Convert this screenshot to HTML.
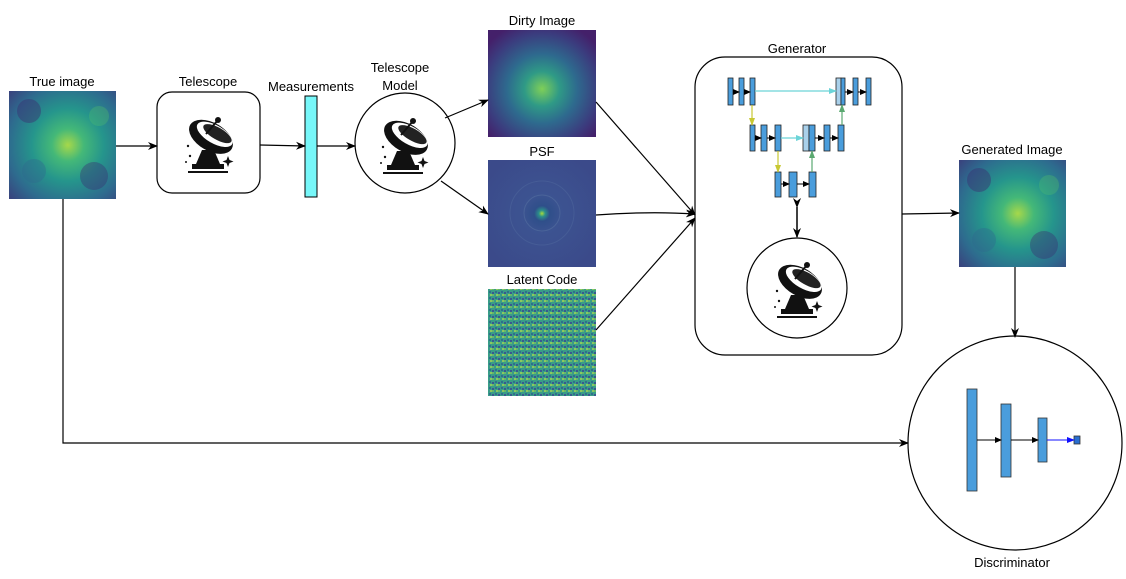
<!DOCTYPE html>
<html><head><meta charset="utf-8"><style>
html,body{margin:0;padding:0;background:#fff;}
svg text{font-family:"Liberation Sans",Arial,sans-serif;font-size:13px;fill:#000;text-anchor:middle;}
</style></head><body>
<svg width="1126" height="574" viewBox="0 0 1126 574" xmlns="http://www.w3.org/2000/svg">
<defs>
<marker id="ar" markerWidth="10" markerHeight="10" refX="9" refY="5" orient="auto" markerUnits="userSpaceOnUse"><path d="M0,1 L10,5 L0,9 L3,5 z" fill="#000"/></marker>
<marker id="arc" markerWidth="8" markerHeight="8" refX="7" refY="4" orient="auto" markerUnits="userSpaceOnUse"><path d="M0,1 L8,4 L0,7 z" fill="#6cd4d8"/></marker>
<marker id="ary" markerWidth="8" markerHeight="8" refX="7" refY="4" orient="auto" markerUnits="userSpaceOnUse"><path d="M0,1 L8,4 L0,7 z" fill="#c8c832"/></marker>
<marker id="arg" markerWidth="8" markerHeight="8" refX="7" refY="4" orient="auto" markerUnits="userSpaceOnUse"><path d="M0,1 L8,4 L0,7 z" fill="#5aa870"/></marker>
<marker id="arb" markerWidth="8" markerHeight="8" refX="7" refY="4" orient="auto" markerUnits="userSpaceOnUse"><path d="M0,1 L8,4 L0,7 z" fill="#1010ff"/></marker>
<marker id="ark" markerWidth="7" markerHeight="7" refX="6" refY="3.5" orient="auto" markerUnits="userSpaceOnUse"><path d="M0,0.5 L7,3.5 L0,6.5 z" fill="#000"/></marker>
<radialGradient id="astro" cx="0.55" cy="0.5" r="0.75">
<stop offset="0" stop-color="#a6d84a"/><stop offset="0.2" stop-color="#44b878"/><stop offset="0.45" stop-color="#25958c"/><stop offset="0.75" stop-color="#2e6a8e"/><stop offset="1" stop-color="#3a3f7c"/></radialGradient>
<radialGradient id="dirty" cx="0.5" cy="0.55" r="0.65">
<stop offset="0" stop-color="#7fcf58"/><stop offset="0.25" stop-color="#2f9a86"/><stop offset="0.5" stop-color="#2e6a8e"/><stop offset="0.8" stop-color="#3b3c7e"/><stop offset="1" stop-color="#44206a"/></radialGradient>
<radialGradient id="psf" cx="0.5" cy="0.5" r="0.6">
<stop offset="0" stop-color="#a8db3a"/><stop offset="0.05" stop-color="#2c8f8b"/><stop offset="0.12" stop-color="#2f4f8a"/><stop offset="0.3" stop-color="#3c5391"/><stop offset="1" stop-color="#3b4a8a"/></radialGradient>
<pattern id="noise" width="6" height="6" patternUnits="userSpaceOnUse">
<rect width="6" height="6" fill="#3a9c88"/><rect width="2" height="2" fill="#66b86a"/><rect x="3" y="3" width="2" height="2" fill="#2f6f8c"/><rect x="4" y="0" width="2" height="2" fill="#8cc860"/><rect x="0" y="4" width="2" height="2" fill="#3a5890"/></pattern>
<g id="blobs">
<circle cx="20" cy="20" r="12" fill="#3a2f72" opacity="0.45"/>
<circle cx="85" cy="85" r="14" fill="#3a2f72" opacity="0.4"/>
<circle cx="90" cy="25" r="10" fill="#4fbd6e" opacity="0.35"/>
<circle cx="25" cy="80" r="12" fill="#2f6a8e" opacity="0.4"/>
</g>
<g id="tel">
<ellipse cx="0" cy="-6" rx="24" ry="14" transform="rotate(30)" fill="#111"/>
<ellipse cx="2" cy="-10" rx="20" ry="9" transform="rotate(30)" fill="#fff"/>
<ellipse cx="4" cy="-12" rx="16" ry="6" transform="rotate(30)" fill="#222"/>
<circle cx="10" cy="-22" r="3" fill="#111"/>
<line x1="10" y1="-22" x2="-2" y2="-8" stroke="#111" stroke-width="2"/>
<path d="M-6,8 L6,8 L12,22 L-12,22 z" fill="#111"/>
<rect x="-16" y="22" width="32" height="5" fill="#111"/>
<rect x="-20" y="29" width="40" height="2" fill="#111"/>
<path d="M20,14 l1.5,4 l4,1.5 l-4,1.5 l-1.5,4 l-1.5,-4 l-4,-1.5 l4,-1.5 z" fill="#111"/>
<circle cx="-20" cy="4" r="1.2" fill="#111"/><circle cx="-18" cy="14" r="1.2" fill="#111"/><circle cx="-22" cy="20" r="1" fill="#111"/>
</g>
</defs>

<text x="62" y="86">True image</text>
<text x="208" y="86">Telescope</text>
<text x="311" y="91">Measurements</text>
<text x="400" y="72">Telescope</text>
<text x="400" y="90">Model</text>
<text x="542" y="25">Dirty Image</text>
<text x="542" y="156">PSF</text>
<text x="542" y="284">Latent Code</text>
<text x="797" y="53">Generator</text>
<text x="1012" y="154">Generated Image</text>
<text x="1012" y="567">Discriminator</text>

<rect x="9" y="91" width="107" height="108" fill="url(#astro)"/>
<use href="#blobs" x="9" y="91"/>
<rect x="488" y="30" width="108" height="107" fill="url(#dirty)"/>
<rect x="488" y="160" width="108" height="107" fill="url(#psf)"/>
<circle cx="542" cy="213" r="18" fill="none" stroke="#556fa0" stroke-width="1" opacity="0.6"/>
<circle cx="542" cy="213" r="32" fill="none" stroke="#556fa0" stroke-width="1" opacity="0.4"/>
<rect x="488" y="289" width="108" height="107" fill="url(#noise)"/>
<rect x="959" y="160" width="107" height="107" fill="url(#astro)"/>
<use href="#blobs" x="959" y="160"/>

<rect x="157" y="92" width="103" height="101" rx="15" fill="#fff" stroke="#000" stroke-width="1.2"/>
<use href="#tel" x="208" y="142"/>
<rect x="305" y="96" width="12" height="101" fill="#77f7f9" stroke="#000" stroke-width="1"/>
<circle cx="405" cy="143" r="50" fill="#fff" stroke="#000" stroke-width="1.2"/>
<use href="#tel" x="403" y="143"/>

<g stroke="#000" stroke-width="1.2" fill="none">
<line x1="116" y1="146" x2="157" y2="146" marker-end="url(#ar)"/>
<line x1="260" y1="145" x2="305" y2="146" marker-end="url(#ar)"/>
<line x1="317" y1="146" x2="355" y2="146" marker-end="url(#ar)"/>
<line x1="445" y1="118" x2="488" y2="100" marker-end="url(#ar)"/>
<line x1="441" y1="181" x2="488" y2="214" marker-end="url(#ar)"/>
<line x1="596" y1="102" x2="695" y2="215" marker-end="url(#ar)"/>
<path d="M596,215 Q650,211 695,214" marker-end="url(#ar)"/>
<line x1="596" y1="330" x2="695" y2="218" marker-end="url(#ar)"/>
<line x1="902" y1="214" x2="959" y2="213" marker-end="url(#ar)"/>
<line x1="1015" y1="267" x2="1015" y2="337" marker-end="url(#ar)"/>
<polyline points="63,199 63,443 908,443" marker-end="url(#ar)"/>
</g>

<rect x="695" y="57" width="207" height="298" rx="30" fill="none" stroke="#000" stroke-width="1.2"/>
<g stroke="#222" stroke-width="0.8" fill="#4a9ddc">
<rect x="728" y="78" width="5" height="27"/><rect x="739" y="78" width="5" height="27"/><rect x="750" y="78" width="5" height="27"/>
<rect x="836" y="78" width="5" height="27" fill="#a9d0ea"/><rect x="841" y="78" width="4" height="27"/><rect x="853" y="78" width="5" height="27"/><rect x="866" y="78" width="5" height="27"/>
<rect x="750" y="125" width="5" height="26"/><rect x="761" y="125" width="6" height="26"/><rect x="775" y="125" width="6" height="26"/>
<rect x="803" y="125" width="6" height="26" fill="#a9d0ea"/><rect x="809" y="125" width="6" height="26"/><rect x="824" y="125" width="6" height="26"/><rect x="838" y="125" width="6" height="26"/>
<rect x="775" y="172" width="6" height="25"/><rect x="789" y="172" width="8" height="25"/><rect x="809" y="172" width="7" height="25"/>
</g>
<g stroke="#000" stroke-width="1" fill="none">
<line x1="733" y1="92" x2="739" y2="92" marker-end="url(#ark)"/>
<line x1="744" y1="92" x2="750" y2="92" marker-end="url(#ark)"/>
<line x1="845" y1="92" x2="853" y2="92" marker-end="url(#ark)"/>
<line x1="858" y1="92" x2="866" y2="92" marker-end="url(#ark)"/>
<line x1="755" y1="138" x2="761" y2="138" marker-end="url(#ark)"/>
<line x1="767" y1="138" x2="775" y2="138" marker-end="url(#ark)"/>
<line x1="815" y1="138" x2="824" y2="138" marker-end="url(#ark)"/>
<line x1="830" y1="138" x2="838" y2="138" marker-end="url(#ark)"/>
<line x1="781" y1="184" x2="789" y2="184" marker-end="url(#ark)"/>
<line x1="797" y1="184" x2="809" y2="184" marker-end="url(#ark)"/>
</g>
<line x1="755" y1="91" x2="836" y2="91" stroke="#6cd4d8" stroke-width="1.2" marker-end="url(#arc)"/>
<line x1="781" y1="138" x2="803" y2="138" stroke="#6cd4d8" stroke-width="1.2" marker-end="url(#arc)"/>
<line x1="752" y1="105" x2="752" y2="125" stroke="#c8c832" stroke-width="1.2" marker-end="url(#ary)"/>
<line x1="778" y1="151" x2="778" y2="172" stroke="#c8c832" stroke-width="1.2" marker-end="url(#ary)"/>
<line x1="812" y1="172" x2="812" y2="151" stroke="#5aa870" stroke-width="1.2" marker-end="url(#arg)"/>
<line x1="842" y1="125" x2="842" y2="105" stroke="#5aa870" stroke-width="1.2" marker-end="url(#arg)"/>
<line x1="797" y1="207" x2="797" y2="237" stroke="#000" stroke-width="1.5" marker-end="url(#ar)" marker-start="url(#ar)"/>
<circle cx="797" cy="288" r="50" fill="#fff" stroke="#000" stroke-width="1.2"/>
<use href="#tel" x="797" y="287"/>

<circle cx="1015" cy="443" r="107" fill="none" stroke="#000" stroke-width="1.2"/>
<g stroke="#333" stroke-width="0.8" fill="#4a9ddc">
<rect x="967" y="389" width="10" height="102"/>
<rect x="1001" y="404" width="10" height="73"/>
<rect x="1038" y="418" width="9" height="44"/>
<rect x="1074" y="436" width="6" height="8" fill="#2a6fd0"/>
</g>
<line x1="977" y1="440" x2="1001" y2="440" stroke="#000" stroke-width="1" marker-end="url(#ark)"/>
<line x1="1011" y1="440" x2="1038" y2="440" stroke="#000" stroke-width="1" marker-end="url(#ark)"/>
<line x1="1047" y1="440" x2="1074" y2="440" stroke="#1010ff" stroke-width="1" marker-end="url(#arb)"/>
</svg>
</body></html>
